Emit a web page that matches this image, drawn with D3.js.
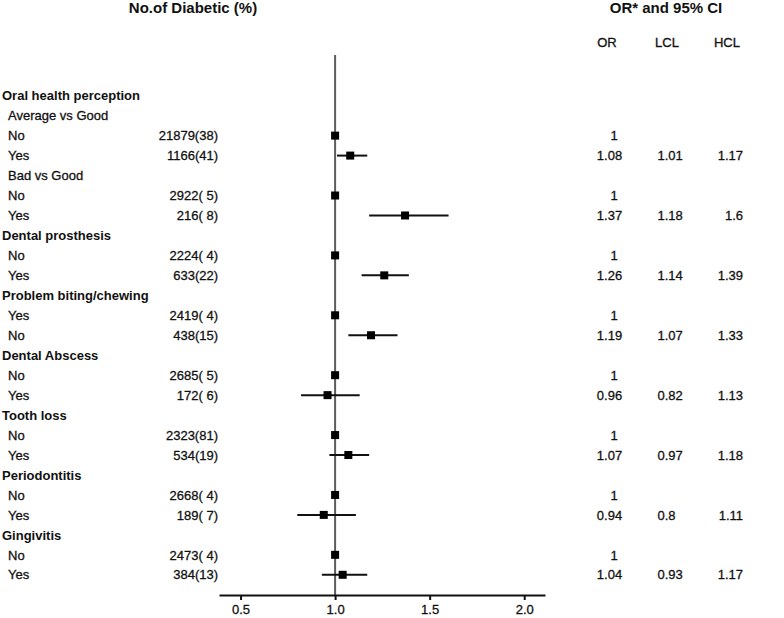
<!DOCTYPE html>
<html>
<head>
<meta charset="utf-8">
<script src="https://cdn.jsdelivr.net/npm/d3@7"></script>
<style>
  html, body { margin: 0; padding: 0; background: #fff; }
  svg text { font-family: "Liberation Sans", Arial, sans-serif; fill: #111; }
  svg text.reg { stroke: #111; stroke-width: 0.3px; }
</style>
</head>
<body>
<svg id="chart" width="784" height="618"></svg>
<script>
// ---- data ----
const labels = ["Oral health perception","Average vs Good","No","Yes","Bad vs Good","No","Yes",
  "Dental prosthesis","No","Yes","Problem biting/chewing","Yes","No","Dental Abscess","No","Yes",
  "Tooth loss","No","Yes","Periodontitis","No","Yes","Gingivitis","No","Yes"];
const isGroup = [1,0,0,0,0,0,0,1,0,0,1,0,0,1,0,0,1,0,0,1,0,0,1,0,0];
const counts = ["","","21879(38)","1166(41)","","2922( 5)","216( 8)","","2224( 4)","633(22)","",
  "2419( 4)","438(15)","","2685( 5)","172( 6)","","2323(81)","534(19)","","2668( 4)","189( 7)","",
  "2473( 4)","384(13)"];
const orVals = [null,null,1,1.08,null,1,1.37,null,1,1.26,null,1,1.19,null,1,0.96,null,1,1.07,null,1,0.94,null,1,1.04];
const lclVals = [null,null,null,1.01,null,null,1.18,null,null,1.14,null,null,1.07,null,null,0.82,null,null,0.97,null,null,0.8,null,null,0.93];
const hclVals = [null,null,null,1.17,null,null,1.6,null,null,1.39,null,null,1.33,null,null,1.13,null,null,1.18,null,null,1.11,null,null,1.17];
const tickVals = [0.5, 1.0, 1.5, 2.0];
const titleLeft = "No.of Diabetic (%)";
const titleRight = "OR* and 95% CI";
const colHeads = ["OR", "LCL", "HCL"];

// ---- layout ----
const svg = d3.select("#chart");
const idx = d3.range(labels.length);
const y = d3.scalePoint().domain(idx).range([95.7, 574.8]);
const x = d3.scaleLinear().domain([0.386, 2.11]).range([219, 545]);
const axisY = 595;

// titles
svg.append("text").attr("x", 193).attr("y", 13).attr("text-anchor", "middle")
  .style("font-size", "15px").style("font-weight", "bold").text(titleLeft);
svg.append("text").attr("x", 666).attr("y", 13).attr("text-anchor", "middle")
  .style("font-size", "15px").style("font-weight", "bold").text(titleRight);

// column headers
const headX = [607, 667, 727];
svg.selectAll("text.colhead").data(colHeads).join("text").attr("class", "colhead reg")
  .attr("x", (d, i) => headX[i]).attr("y", 47).attr("text-anchor", "middle")
  .style("font-size", "13px").text(d => d);

// reference line at OR = 1
svg.append("line").attr("x1", x(1)).attr("x2", x(1)).attr("y1", 55).attr("y2", axisY)
  .attr("stroke", "#5c5c5c").attr("stroke-width", 2);

// axis
const axis = d3.axisBottom(x).tickValues(tickVals).tickFormat(d3.format(".1f"))
  .tickSize(5).tickSizeOuter(0).tickPadding(5);
const gAxis = svg.append("g").attr("transform", `translate(0,${axisY})`).call(axis);
gAxis.select(".domain").attr("stroke", "#111").attr("stroke-width", 2);
gAxis.selectAll(".tick line").attr("stroke", "#111").attr("stroke-width", 2);
gAxis.selectAll(".tick text").attr("class", "reg").style("font-size", "13px")
  .style("font-family", "'Liberation Sans', Arial, sans-serif").attr("fill", "#111");

// row labels
svg.selectAll("text.lab").data(idx).join("text")
  .attr("class", i => isGroup[i] ? "lab" : "lab reg")
  .attr("x", i => isGroup[i] ? 2 : 8).attr("y", i => y(i)).attr("dy", "0.36em")
  .style("font-size", "13px").style("font-weight", i => isGroup[i] ? "bold" : "normal")
  .text(i => labels[i]);

// counts
svg.selectAll("text.cnt").data(idx.filter(i => counts[i])).join("text").attr("class", "cnt reg")
  .attr("x", 218).attr("y", i => y(i)).attr("dy", "0.36em").attr("text-anchor", "end")
  .attr("xml:space", "preserve").style("white-space", "pre")
  .style("font-size", "13px").text(i => counts[i]);

// CI lines
const ciRows = idx.filter(i => lclVals[i] != null);
svg.selectAll("line.ci").data(ciRows).join("line").attr("class", "ci")
  .attr("x1", i => x(lclVals[i])).attr("x2", i => x(hclVals[i]))
  .attr("y1", i => y(i)).attr("y2", i => y(i))
  .attr("stroke", "#111").attr("stroke-width", 2);

// squares
const orRows = idx.filter(i => orVals[i] != null);
const sq = 8;
svg.selectAll("rect.pt").data(orRows).join("rect").attr("class", "pt")
  .attr("x", i => x(orVals[i]) - sq / 2).attr("y", i => y(i) - sq / 2)
  .attr("width", sq).attr("height", sq).attr("fill", "#000");

// table values
const fmt = v => String(v);
svg.selectAll("text.orv").data(orRows).join("text").attr("class", "orv reg")
  .attr("x", i => orVals[i] === 1 ? 614 : 609.5).attr("y", i => y(i)).attr("dy", "0.36em")
  .attr("text-anchor", "middle").style("font-size", "13px").text(i => fmt(orVals[i]));
svg.selectAll("text.lclv").data(ciRows).join("text").attr("class", "lclv reg")
  .attr("x", 657.5).attr("y", i => y(i)).attr("dy", "0.36em")
  .attr("text-anchor", "start").style("font-size", "13px").text(i => fmt(lclVals[i]));
svg.selectAll("text.hclv").data(ciRows).join("text").attr("class", "hclv reg")
  .attr("x", 743).attr("y", i => y(i)).attr("dy", "0.36em")
  .attr("text-anchor", "end").style("font-size", "13px").text(i => fmt(hclVals[i]));
</script>
</body>
</html>
